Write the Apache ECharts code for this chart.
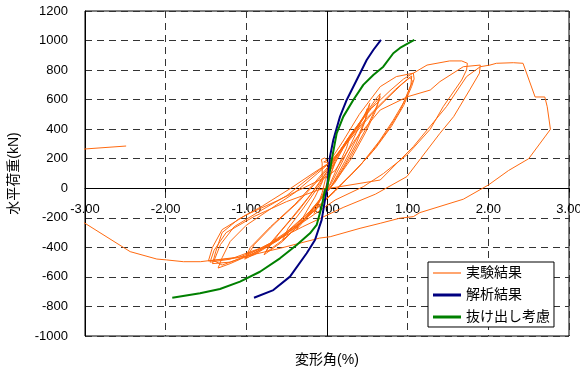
<!DOCTYPE html>
<html>
<head>
<meta charset="utf-8">
<script src="https://cdn.jsdelivr.net/npm/echarts@6/dist/echarts.min.js"></script>
<style>
  html, body { margin: 0; padding: 0; background: #fff; }
  #chart { width: 580px; height: 369px; }
</style>
</head>
<body>
<div id="chart"></div>
<script>
// Drift ratio (%) vs horizontal load (kN)

const xTicks = [-3, -2, -1, 0, 1, 2, 3];
const yTicks = [-1000, -800, -600, -400, -200, 0, 200, 400, 600, 800, 1000, 1200];

const seriesNames = ['実験結果', '解析結果', '抜け出し考慮'];

// Test result, one array per loading cycle
const cycleA = [[0,0],[0.04,80],[0.08,150],[0.1,175],[0.04,120],[-0.02,60],[-0.06,-30],[-0.12,-120],[-0.16,-170],[-0.1,-100],[-0.03,-10],[0.02,60]];
const cycleB = [[0.1,170],[0.2,270],[0.28,340],[0.24,270],[0.12,130],[0.03,20],[-0.15,-130],[-0.3,-230],[-0.38,-280],[-0.3,-200],[-0.15,-60],[-0.06,40],[-0.06,170],[-0.07,195],[-0.03,205],[0.0,190],[-0.04,178],[-0.02,165],[0.02,175]];
const cycleC = [[0.15,240],[0.3,360],[0.4,430],[0.42,450],[0.35,360],[0.2,190],[0.05,30],[-0.2,-160],[-0.4,-280],[-0.55,-350],[-0.48,-270],[-0.3,-140],[-0.12,0],[0.03,120]];
const cycleD = [[0.2,270],[0.38,420],[0.5,530],[0.53,575],[0.5,500],[0.4,370],[0.22,180],[0.05,10],[-0.25,-190],[-0.5,-330],[-0.72,-420],[-0.76,-430],[-0.6,-310],[-0.35,-150],[-0.1,30],[0.05,150]];
const cycleD2 = [[0.22,300],[0.36,400],[0.45,470],[0.5,540],[0.47,450],[0.36,300],[0.2,140],[0.04,0],[-0.3,-220],[-0.55,-360],[-0.78,-450],[-0.7,-370],[-0.45,-210],[-0.2,-40],[0.02,130]];
const cycleE = [[0.25,330],[0.45,480],[0.6,600],[0.66,640],[0.68,650],[0.62,560],[0.5,420],[0.3,220],[0.1,40],[-0.2,-150],[-0.55,-320],[-0.85,-430],[-1.02,-480],[-0.95,-400],[-0.7,-260],[-0.4,-110],[-0.15,40],[0.05,170]];
const cycleE2 = [[0.28,350],[0.48,500],[0.6,580],[0.66,620],[0.6,520],[0.48,380],[0.3,200],[0.12,60],[-0.25,-180],[-0.6,-350],[-0.9,-450],[-1.0,-470],[-0.9,-380],[-0.65,-240],[-0.35,-90],[-0.1,60],[0.05,160]];
const cycleF = [[0.3,370],[0.55,540],[0.78,660],[0.95,740],[1.07,780],[1.08,740],[1.05,690],[0.95,560],[0.8,420],[0.6,270],[0.35,120],[0.1,-20],[-0.25,-200],[-0.6,-350],[-0.95,-450],[-1.2,-510],[-1.35,-540],[-1.3,-470],[-1.2,-360],[-1.0,-250],[-0.7,-140],[-0.4,-30],[-0.12,100],[0.05,180]];
const cycleG = [[0.25,320],[0.5,480],[0.7,590],[0.85,670],[1.0,740],[1.05,760],[1.04,700],[0.95,580],[0.82,460],[0.65,320],[0.42,160],[0.18,30],[-0.15,-150],[-0.5,-310],[-0.9,-440],[-1.2,-500],[-1.42,-510],[-1.38,-430],[-1.3,-300],[-1.1,-210],[-0.8,-120],[-0.45,0],[-0.15,110],[0.05,180]];
const cycleG2 = [[0.3,340],[0.55,500],[0.75,610],[0.92,700],[1.03,750],[1.06,725],[1.0,640],[0.9,520],[0.75,390],[0.55,240],[0.3,90],[0.05,-40],[-0.3,-220],[-0.7,-370],[-1.05,-470],[-1.3,-520],[-1.4,-490],[-1.32,-380],[-1.15,-260],[-0.85,-160],[-0.5,-50],[-0.2,80],[0.02,170]];
const cycleH = [[0.2,320],[0.4,500],[0.66,688],[0.86,756],[1.07,779],[1.24,834],[1.52,862],[1.67,862],[1.74,846],[1.73,801],[1.67,733],[1.44,552],[1.28,400],[1.0,230],[0.7,100],[0.45,11],[0.1,-80],[-0.3,-230],[-0.7,-380],[-1.1,-470],[-1.47,-492],[-1.42,-400],[-1.3,-280],[-1.0,-180],[-0.6,-80],[-0.3,0],[0.0,80]];
const cycleI = [[0.1,120],[0.35,330],[0.66,530],[1.0,620],[1.28,665],[1.4,722],[1.69,823],[1.9,834],[1.89,779],[1.77,667],[1.57,485],[1.4,372],[0.99,79],[0.6,-40],[0.2,-130],[-0.3,-260],[-0.8,-400],[-1.2,-480],[-1.45,-500],[-1.4,-420],[-1.25,-300],[-0.9,-190],[-0.5,-90],[-0.1,-10],[0.16,11]];
const cycleJ = [[0.66,56],[1.07,282],[1.48,552],[1.73,756],[1.9,823],[2.02,834],[2.1,846],[2.31,850],[2.43,846],[2.58,618],[2.7,618],[2.73,552],[2.77,399],[2.5,200],[2.25,120],[2.0,22],[1.69,-74],[1.15,-165],[1.07,-192],[0.9,-203],[0.66,-237],[0.41,-271],[0.04,-328],[-0.09,-337],[-0.58,-406],[-1.0,-460],[-1.57,-497],[-1.78,-497],[-1.99,-485],[-2.11,-479],[-2.44,-429],[-3.0,-237],[-3.3,-120],[-3.3,200],[-3.0,266],[-2.49,286]];

// Analysis result
const analysis = [[-0.905,-741],[-0.665,-689],[-0.459,-598],[-0.252,-440],[-0.149,-350],[-0.066,-214],[-0.025,-79],[0,0],[0.037,214],[0.078,327],[0.161,485],[0.244,598],[0.368,733],[0.492,868],[0.574,936],[0.669,1004]];

// Analysis including bar pull-out
const pullout = [[-1.918,-741],[-1.574,-711],[-1.327,-682],[-1.078,-632],[-0.831,-565],[-0.583,-474],[-0.376,-384],[-0.211,-305],[-0.128,-248],[-0.066,-125],[-0.025,-12],[0,0],[0.058,191],[0.12,372],[0.202,485],[0.326,598],[0.45,700],[0.574,767],[0.698,823],[0.822,914],[0.905,950],[1.082,1004]];

const experiment = [].concat(cycleA, cycleB, cycleC, cycleD, cycleD2, cycleE, cycleE2, cycleF, cycleG, cycleG2, cycleH, cycleI, cycleJ);

const FONT = "'Liberation Sans', 'Noto Sans CJK JP', sans-serif";

// plain line swatches for the legend
const thinLine = 'path://M0,0L28,0L28,1.2L0,1.2Z';
const thickLine = 'path://M0,0L28,0L28,3L0,3Z';

// plot box
const GRID = { left: 85, top: 11, right: 11, bottom: 33 };
const plotH = 369 - GRID.top - GRID.bottom;
const yMin = yTicks[0], yMax = yTicks[yTicks.length - 1];
// lift the x axis (line, labels, name) up to the load = 0 level
const xAxisOffset = -plotH * (0 - yMin) / (yMax - yMin);

const chart = echarts.init(document.getElementById('chart'), null, { renderer: 'canvas' });

chart.setOption({
  animation: false,
  backgroundColor: '#fff',
  textStyle: { fontFamily: FONT, color: '#000' },
  grid: Object.assign({
    outerBoundsMode: 'none',
    containLabel: false,
    show: true, borderColor: '#000', borderWidth: 1, backgroundColor: 'transparent'
  }, GRID),
  legend: {
    orient: 'vertical',
    left: 428, top: 262,
    padding: [4, 4, 3, 5],
    itemGap: 8,
    itemWidth: 28, itemHeight: 12,
    backgroundColor: '#fff',
    borderColor: '#000', borderWidth: 1, borderRadius: 0,
    textStyle: { fontFamily: FONT, fontSize: 14, color: '#000' },
    data: [
      { name: seriesNames[0], icon: thinLine },
      { name: seriesNames[1], icon: thickLine },
      { name: seriesNames[2], icon: thickLine }
    ]
  },
  xAxis: {
    type: 'value',
    position: 'bottom',
    offset: xAxisOffset,
    min: xTicks[0], max: xTicks[xTicks.length - 1], interval: 1,
    name: '変形角(%)',
    nameLocation: 'middle',
    nameGap: 165,
    nameTextStyle: { fontFamily: FONT, fontSize: 14, color: '#000' },
    axisLine: { show: true, onZero: false, lineStyle: { color: '#000', width: 1 } },
    axisTick: { show: true, length: 4, lineStyle: { color: '#000' } },
    axisLabel: {
      fontFamily: FONT, fontSize: 13, color: '#000', margin: 15,
      formatter: v => v.toFixed(2)
    },
    splitLine: { show: true, lineStyle: { color: '#333', type: [7, 5], width: 1 } }
  },
  yAxis: {
    type: 'value',
    min: yMin, max: yMax, interval: 200,
    name: '水平荷重(kN)',
    nameLocation: 'middle',
    nameGap: 64,
    nameRotate: 90,
    nameTextStyle: { fontFamily: FONT, fontSize: 14, color: '#000' },
    axisLine: { show: true, onZero: false, lineStyle: { color: '#000', width: 1 } },
    axisTick: { show: false },
    axisLabel: { fontFamily: FONT, fontSize: 13, color: '#000', margin: 17, formatter: v => String(v) },
    splitLine: { show: true, lineStyle: { color: '#333', type: [7, 5], width: 1 } }
  },
  series: [
    {
      name: seriesNames[0],
      type: 'line',
      data: experiment,
      symbol: 'none',
      smooth: false,
      clip: true,
      lineStyle: { color: '#FF6A10', width: 1 },
      itemStyle: { color: '#FF6A10' },
      z: 3,
      markLine: {
        silent: true,
        symbol: ['none', 'none'],
        label: { show: false },
        lineStyle: { color: '#000', type: 'solid', width: 1 },
        data: [{ xAxis: 0 }],
        z: 1
      }
    },
    {
      name: seriesNames[1],
      type: 'line',
      data: analysis,
      symbol: 'none',
      lineStyle: { color: '#000080', width: 2 },
      itemStyle: { color: '#000080' },
      z: 4
    },
    {
      name: seriesNames[2],
      type: 'line',
      data: pullout,
      symbol: 'none',
      lineStyle: { color: '#008000', width: 2 },
      itemStyle: { color: '#008000' },
      z: 4
    }
  ]
});
</script>
</body>
</html>
